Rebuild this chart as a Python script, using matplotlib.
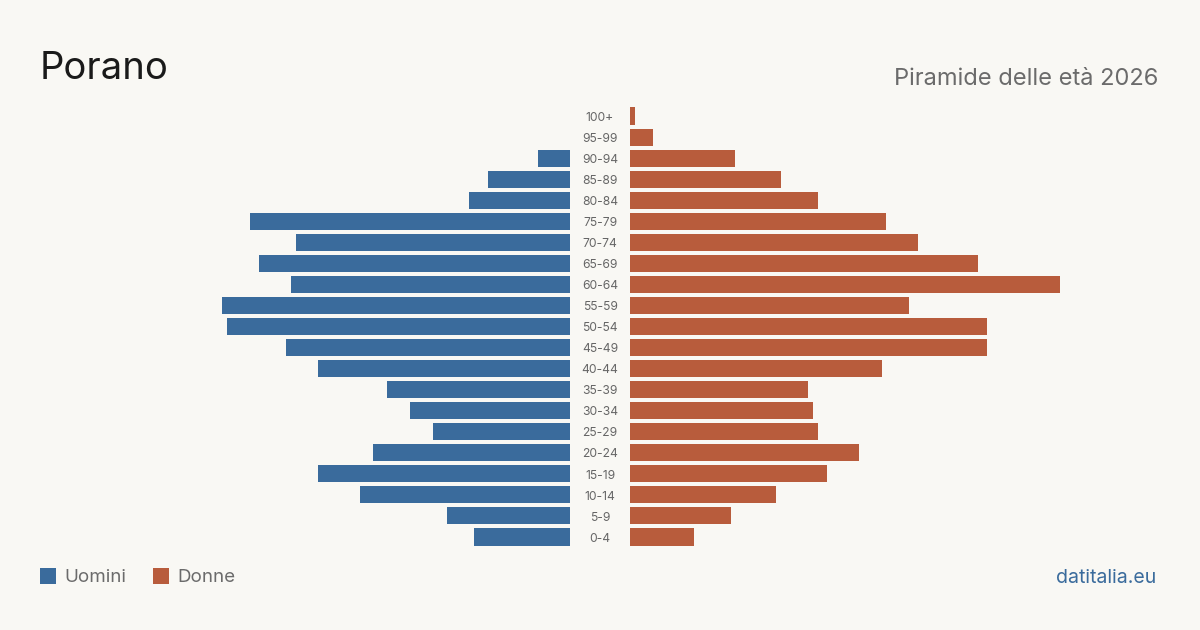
import matplotlib
matplotlib.use("Agg")
import matplotlib.pyplot as plt
from matplotlib.patches import Rectangle

plt.rcParams['font.family'] = ['Inter', 'DejaVu Sans']

age_groups = ["0-4", "5-9", "10-14", "15-19", "20-24", "25-29", "30-34", "35-39",
              "40-44", "45-49", "50-54", "55-59", "60-64", "65-69", "70-74", "75-79",
              "80-84", "85-89", "90-94", "95-99", "100+"]
men = [21, 27, 46, 55, 43, 30, 35, 40, 55, 62, 75, 76, 61, 68, 60, 70, 22, 18, 7, 0, 0]
women = [14, 22, 32, 43, 50, 41, 40, 39, 55, 78, 78, 61, 94, 76, 63, 56, 41, 33, 23, 5, 1]

title = "Porano"
subtitle = "Piramide delle età 2026"
legend_labels = ["Uomini", "Donne"]
source = "datitalia.eu"

BG = "#f9f8f4"
BLUE = "#3a6b9c"
RED = "#b85c3c"

W, H = 1200, 630
fig = plt.figure(figsize=(12, 6.3), dpi=100, facecolor=BG)

xmax = 100
scale = 4.574  # px per unit
axw = xmax * scale
y_top_px, y_bot_px = 105.5, 547.5
bottom = 1 - y_bot_px / H
height = (y_bot_px - y_top_px) / H

axL = fig.add_axes([(570 - axw) / W, bottom, axw / W, height])
axR = fig.add_axes([630 / W, bottom, axw / W, height])
ypos = list(range(len(age_groups)))
for ax, vals, col in ((axL, men, BLUE), (axR, women, RED)):
    ax.barh(ypos, vals, height=0.81, color=col, linewidth=0)
    ax.set_xlim(0, xmax)
    ax.set_ylim(-0.5, len(age_groups) - 0.5)
    ax.axis('off')
    ax.set_facecolor('none')
axL.invert_xaxis()

for i, lab in enumerate(age_groups):
    axR.text(-30 / scale, i - 0.08, lab, ha='center', va='center', fontsize=8.7, color='#666666')

fig.text(40 / W, 1 - 69 / H, title, fontsize=27.5, color='#1a1a1a', ha='left', va='center')
fig.text(1158 / W, 1 - 79 / H, subtitle, fontsize=17, color='#6b6b6b', ha='right', va='center')

# legend
for x0, col, lab in ((40, BLUE, legend_labels[0]), (153, RED, legend_labels[1])):
    fig.patches.append(Rectangle((x0 / W, 1 - 584 / H), 16 / W, 16 / H,
                                 transform=fig.transFigure, color=col, linewidth=0))
    fig.text((x0 + 24) / W, 1 - 578 / H, lab, fontsize=13.5, color='#6b6b6b', ha='left', va='center')

fig.text(1156 / W, 1 - 578 / H, source, fontsize=14, color=BLUE, ha='right', va='center')

fig.savefig("out.png", dpi=100, facecolor=BG)
